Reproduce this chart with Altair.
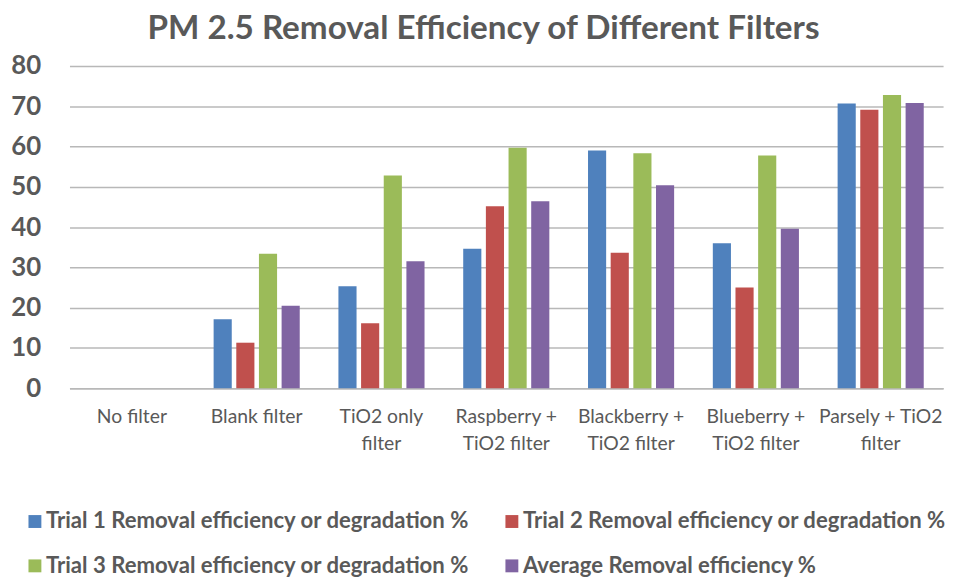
import altair as alt
import pandas as pd

categories = [
    "No filter",
    "Blank filter",
    "TiO2 only filter",
    "Raspberry + TiO2 filter",
    "Blackberry + TiO2 filter",
    "Blueberry + TiO2 filter",
    "Parsely + TiO2 filter",
]
label_lines = [
    ["No filter"],
    ["Blank filter"],
    ["TiO2 only", "filter"],
    ["Raspberry +", "TiO2 filter"],
    ["Blackberry +", "TiO2 filter"],
    ["Blueberry +", "TiO2 filter"],
    ["Parsely + TiO2", "filter"],
]
series = [
    "Trial 1 Removal efficiency or degradation %",
    "Trial 2 Removal efficiency or degradation %",
    "Trial 3 Removal efficiency or degradation %",
    "Average Removal efficiency %",
]
trial1 = [0, 17.1, 25.3, 34.6, 59.0, 36.0, 70.7]
trial2 = [0, 11.3, 16.1, 45.2, 33.6, 25.0, 69.1]
trial3 = [0, 33.4, 52.8, 59.7, 58.3, 57.8, 72.8]
average = [0, 20.5, 31.5, 46.4, 50.4, 39.6, 70.8]
colors = ["#4F81BD", "#C0504D", "#9BBB59", "#8064A2"]

rows = []
for s, vals in zip(series, [trial1, trial2, trial3, average]):
    for c, v in zip(categories, vals):
        rows.append({"category": c, "series": s, "value": v})
df = pd.DataFrame(rows)

# multi-line axis labels
expr = "datum.label"
for c, lines in reversed(list(zip(categories, label_lines))):
    arr = "[" + ",".join("'" + l + "'" for l in lines) + "]"
    expr = f"datum.label == '{c}' ? {arr} : ({expr})"

FONT = "Lato"
GRAY = "#595959"

chart = (
    alt.Chart(df)
    .mark_bar()
    .encode(
        x=alt.X(
            "category:N",
            sort=categories,
            scale=alt.Scale(paddingInner=0.31, paddingOuter=0.155),
            axis=alt.Axis(
                title=None,
                labelAngle=0,
                labelExpr=expr,
                labelFont=FONT,
                labelFontSize=19.5,
                labelColor=GRAY,
                labelPadding=20,
                labelLineHeight=27,
                labelBaseline="top",
                ticks=False,
                domainColor="#b8b8b8",
                domainWidth=1.5,
                labelLimit=200,
            ),
        ),
        xOffset=alt.XOffset(
            "series:N",
            sort=series,
            scale=alt.Scale(paddingInner=0.2, paddingOuter=0),
        ),
        y=alt.Y(
            "value:Q",
            scale=alt.Scale(domain=[0, 80]),
            axis=alt.Axis(
                title=None,
                values=[0, 10, 20, 30, 40, 50, 60, 70, 80],
                labelFont=FONT,
                labelFontSize=26,
                labelFontWeight="bold",
                labelColor=GRAY,
                labelPadding=29,
                ticks=False,
                domain=False,
                gridColor="#b8b8b8",
                gridWidth=1.5,
            ),
        ),
        color=alt.Color(
            "series:N",
            sort=series,
            scale=alt.Scale(domain=series, range=colors),
            legend=alt.Legend(
                title=None,
                orient="none",
                legendX=-46,
                legendY=448,
                direction="horizontal",
                columns=2,
                symbolType="square",
                symbolSize=169,
                symbolStrokeWidth=0,
                labelFont=FONT,
                labelFontSize=22.3,
                labelFontWeight="bold",
                labelColor=GRAY,
                labelLimit=600,
                labelOffset=0,
                columnPadding=31,
                rowPadding=22,
                padding=0,
            ),
        ),
    )
    .properties(
        width=881,
        height=325,
        title=alt.TitleParams(
            "PM 2.5 Removal Efficiency of Different Filters",
            font=FONT,
            fontSize=33.5,
            fontWeight="bold",
            color=GRAY,
            anchor="middle",
            frame="group",
            dx=-23,
            offset=7,
        ),
        autosize=alt.AutoSizeParams(type="none"),
        padding={"left": 62, "top": 56, "right": 9, "bottom": 196},
    )
    .configure_view(stroke=None)
)

chart.save("out.html", embed_options={"renderer": "svg", "actions": False})
